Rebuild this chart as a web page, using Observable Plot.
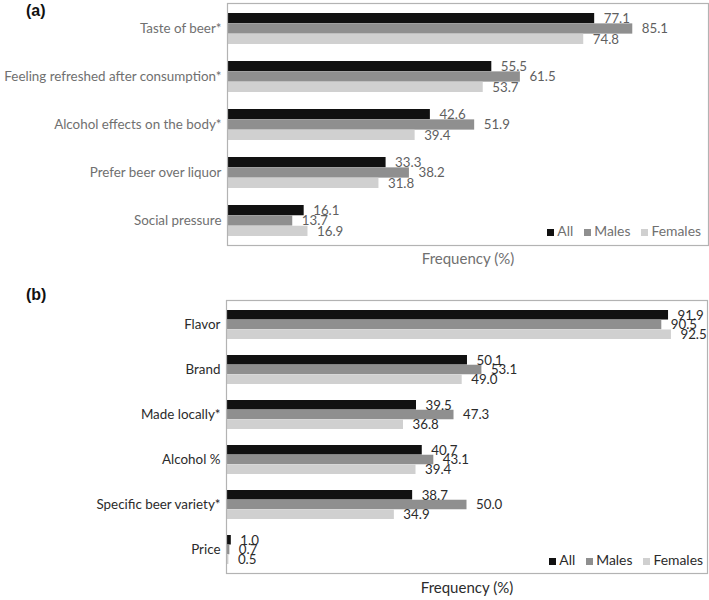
<!DOCTYPE html>
<html>
<head>
<meta charset="utf-8">
<script src="https://cdn.jsdelivr.net/npm/d3@7"></script>
<script src="https://cdn.jsdelivr.net/npm/@observablehq/plot@0.6"></script>
<style>
  body { margin: 0; background: #fff; font-family: Lato, "Open Sans", sans-serif; }
  #wrap { position: relative; width: 709px; height: 600px; }
  .panel { position: absolute; left: 0; }
  .tag { position: absolute; left: 26px; font: bold 16px "Liberation Sans", Arial, sans-serif; color: #111; }
  .legend { position: absolute; font-size: 13.9px; display: flex; gap: 11px; align-items: center; }
  .legend span.sw { display: inline-block; width: 7px; height: 7px; margin-right: 3px; }
</style>
</head>
<body>
<div id="wrap"></div>
<script>
const series = ["All", "Males", "Females"];
const colors = ["#111111", "#8f8f8f", "#d0d0d0"];

const catsA = ["Taste of beer*", "Feeling refreshed after consumption*", "Alcohol effects on the body*", "Prefer beer over liquor", "Social pressure"];
const allA = [77.1, 55.5, 42.6, 33.3, 16.1];
const malesA = [85.1, 61.5, 51.9, 38.2, 13.7];
const femalesA = [74.8, 53.7, 39.4, 31.8, 16.9];

const catsB = ["Flavor", "Brand", "Made locally*", "Alcohol %", "Specific beer variety*", "Price"];
const allB = [91.9, 50.1, 39.5, 40.7, 38.7, 1.0];
const malesB = [90.5, 53.1, 47.3, 43.1, 50.0, 0.7];
const femalesB = [92.5, 49.0, 36.8, 39.4, 34.9, 0.5];

const xLabel = "Frequency (%)";

function panel({cats, vals, height, marginTop, marginBottom, marginLeft, marginRight, xmax, labelColor, valueColor, xLabelDy}) {
  const n = cats.length, pi = 0.36, po = 0.17;
  const plotH = height - marginTop - marginBottom;
  const step = plotH / (n - pi + 2 * po);
  const h = step * (1 - pi) / 3;
  const rows = [];
  series.forEach((s, i) => cats.forEach((c, j) => rows.push({cat: c, series: s, value: vals[i][j], k: i})));
  const marks = [];
  series.forEach((s, i) => {
    const d = rows.filter(r => r.k === i);
    marks.push(Plot.barX(d, {x: "value", y: "cat", fill: colors[i], insetTop: i * h, insetBottom: (2 - i) * h}));
  });
  series.forEach((s, i) => {
    const d = rows.filter(r => r.k === i);
    marks.push(Plot.text(d, {x: "value", y: "cat", dy: (i - 1) * h, dx: 9, text: r => r.value.toFixed(1), textAnchor: "start", fill: valueColor, fontSize: 13.3}));
  });
  marks.push(Plot.frame({stroke: "#b3b3b3", strokeWidth: 1.2}));
  marks.push(Plot.text([xLabel], {frameAnchor: "bottom", dy: xLabelDy, text: d => d, fill: labelColor, fontSize: 15}));
  return Plot.plot({
    width: 709,
    height,
    marginTop, marginBottom, marginLeft, marginRight,
    style: {fontFamily: "Lato, 'Open Sans', sans-serif", fontSize: "13.4px", color: labelColor, background: "white"},
    x: {domain: [0, xmax], axis: null},
    y: {domain: cats, paddingInner: pi, paddingOuter: po, label: null, tickSize: 0, tickPadding: 6},
    marks
  });
}

const wrap = document.getElementById("wrap");

function addLegend(top, right, color) {
  const lg = document.createElement("div");
  lg.className = "legend";
  lg.style.top = top + "px";
  lg.style.right = right + "px";
  lg.style.color = color;
  series.forEach((s, i) => {
    const it = document.createElement("div");
    it.innerHTML = `<span class="sw" style="background:${colors[i]}"></span>${s}`;
    lg.appendChild(it);
  });
  wrap.appendChild(lg);
}

const pa = panel({cats: catsA, vals: [allA, malesA, femalesA], height: 275, marginTop: 3, marginBottom: 30, marginLeft: 227, marginRight: 1, xmax: 101, labelColor: "#707070", valueColor: "#5f5f5f", xLabelDy: 18});
pa.classList.add("panel"); pa.style.top = "0px";
wrap.appendChild(pa);

const pb = panel({cats: catsB, vals: [allB, malesB, femalesB], height: 325, marginTop: 25, marginBottom: 27, marginLeft: 226, marginRight: 2, xmax: 100, labelColor: "#2b2b2b", valueColor: "#2b2b2b", xLabelDy: 19});
pb.classList.add("panel"); pb.style.top = "275px";
wrap.appendChild(pb);

const ta = document.createElement("div"); ta.className = "tag"; ta.textContent = "(a)"; ta.style.top = "2px"; wrap.appendChild(ta);
const tb = document.createElement("div"); tb.className = "tag"; tb.textContent = "(b)"; tb.style.top = "286px"; wrap.appendChild(tb);

addLegend(222, 8, "#707070");
addLegend(551, 6, "#2b2b2b");
</script>
</body>
</html>
